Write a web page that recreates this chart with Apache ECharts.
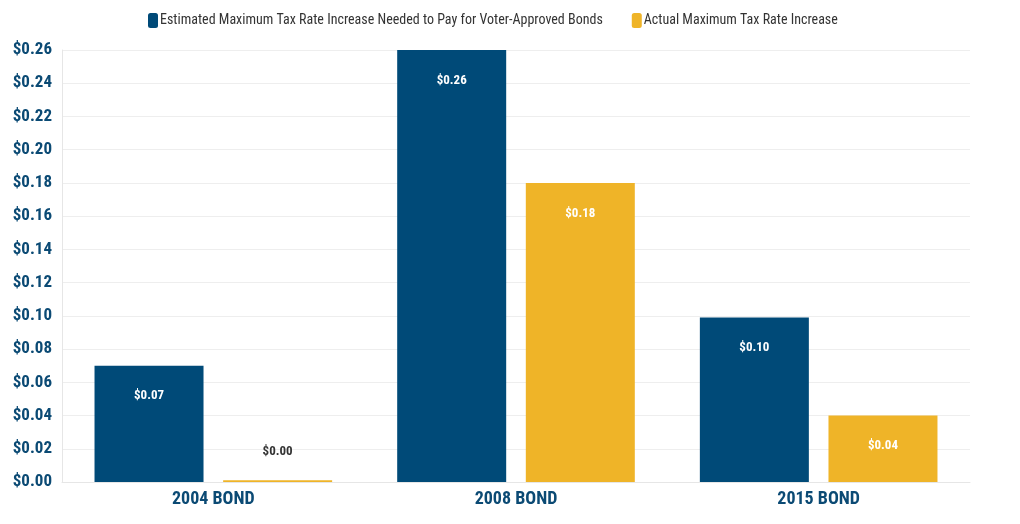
<!DOCTYPE html>
<html><head><meta charset="utf-8">
<script src="https://cdn.jsdelivr.net/npm/echarts@6/dist/echarts.min.js"></script>
<style>html,body{margin:0;padding:0;background:#fff}#c{width:1020px;height:524px}</style>
</head><body><div id="c"></div>
<script>
const categories = ['2004 BOND', '2008 BOND', '2015 BOND'];
const estimated = [0.07, 0.26, 0.099];
const actual = [0.001, 0.18, 0.04];
const yTicks = {min: 0, max: 0.26, interval: 0.02};
const seriesNames = ['Estimated Maximum Tax Rate Increase Needed to Pay for Voter-Approved Bonds', 'Actual Maximum Tax Rate Increase'];

const FONT = "'Roboto Condensed', 'Liberation Sans Narrow', 'DejaVu Sans Condensed', Roboto, sans-serif";
const BLUE = '#004a78', GOLD = '#efb428', AXIS = '#0b4a74';
const fmt = v => '$' + v.toFixed(2);
const lbl = {show: true, position: 'insideTop', distance: 24, color: '#fff', fontWeight: 'bold', fontSize: 13, fontFamily: FONT, formatter: p => fmt(p.value)};

function mk(vals) {
  return vals.map(v => v < 0.005 ? {value: v, label: {position: 'top', distance: 22, color: '#333'}} : v);
}

const chart = echarts.init(document.getElementById('c'));
chart.setOption({
  animation: false,
  textStyle: {fontFamily: FONT},
  legend: {top: 8, left: 143, itemWidth: 10, itemHeight: 15, itemGap: 29, icon: 'roundRect',
    textStyle: {fontSize: 14, color: '#333', fontFamily: FONT, padding: [0, 0, 0, -3]}},
  grid: {left: 62, right: 50, top: 50, bottom: 42},
  xAxis: {type: 'category', data: categories,
    axisLine: {lineStyle: {color: '#e6e6e6'}},
    axisTick: {alignWithLabel: true, length: 5, lineStyle: {color: '#e6e6e6'}},
    axisLabel: {color: AXIS, fontWeight: 'bold', fontSize: 18, fontFamily: FONT, margin: 8}},
  yAxis: {type: 'value', min: yTicks.min, max: yTicks.max, interval: yTicks.interval,
    axisLine: {show: true, lineStyle: {color: '#e6e6e6'}},
    splitLine: {lineStyle: {color: '#eeeeee'}},
    axisLabel: {color: AXIS, fontWeight: 'bold', fontSize: 17, fontFamily: FONT, margin: 10, formatter: v => fmt(v)}},
  series: [
    {name: seriesNames[0], type: 'bar', data: mk(estimated), barWidth: 109, barGap: '18%', itemStyle: {color: BLUE}, label: lbl},
    {name: seriesNames[1], type: 'bar', data: mk(actual), barWidth: 109, itemStyle: {color: GOLD}, label: lbl}
  ]
});
</script></body></html>
